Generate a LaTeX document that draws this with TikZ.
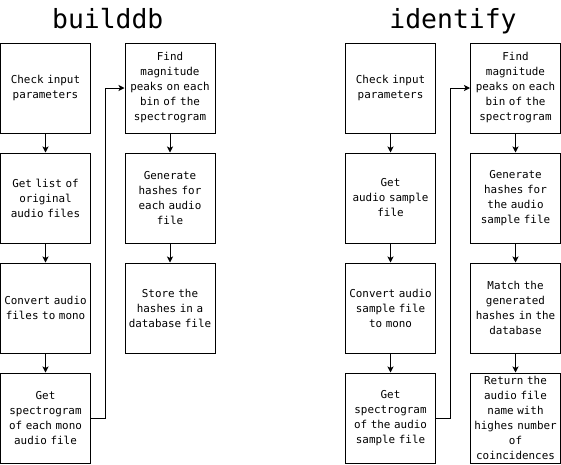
\documentclass[tikz,border=0pt]{standalone}
\usepackage{fontspec}
\setmainfont{DejaVu Sans Mono}
\usetikzlibrary{arrows.meta}
\begin{document}
\begin{tikzpicture}[x=1pt,y=-1pt,
  box/.style={draw, line width=1pt, minimum width=90pt, minimum height=90pt,
    text width=89pt, inner sep=0.5pt, align=center,
    font=\fontsize{10.9}{15}\selectfont},
  arr/.style={line width=1pt, -{Stealth[length=6pt,width=6pt,inset=1.5pt]}},
  ttl/.style={font=\fontsize{26.4}{30}\selectfont, anchor=base, inner sep=0pt}]
\useasboundingbox (0,0) rectangle (561,464);
% titles
\node[ttl] (t1) at (107.75,28) {builddb};
\node[ttl] (t2) at (453,28) {identify};
% builddb left column
\node[box] (a1) at (45.5,88) {Check input\\parameters};
\node[box] (a2) at (45.5,198) {Get list of\\original\\audio files};
\node[box] (a3) at (45.5,308) {Convert audio\\files to mono};
\node[box] (a4) at (45.5,418) {Get\\spectrogram\\of each mono\\audio file};
% builddb right column
\node[box] (a5) at (170,88) {Find\\magnitude\\peaks on each\\bin of the\\spectrogram};
\node[box] (a6) at (170,198) {Generate\\hashes for\\each audio\\file};
\node[box] (a7) at (170,308) {Store the\\hashes in a\\database file};
% identify left column
\node[box] (b1) at (390.5,88) {Check input\\parameters};
\node[box] (b2) at (390.5,198) {Get\\audio sample\\file};
\node[box] (b3) at (390.5,308) {Convert audio\\sample file\\to mono};
\node[box] (b4) at (390.5,418) {Get\\spectrogram\\of the audio\\sample file};
% identify right column
\node[box] (b5) at (515.5,88) {Find\\magnitude\\peaks on each\\bin of the\\spectrogram};
\node[box] (b6) at (515.5,198) {Generate\\hashes for\\the audio\\sample file};
\node[box] (b7) at (515.5,308) {Match the\\generated\\hashes in the\\database};
\node[box] (b8) at (515.5,418) {Return the\\audio file\\name with\\highes number\\of\\coincidences};
% connectors
\draw[arr] (a1) -- (a2);
\draw[arr] (a2) -- (a3);
\draw[arr] (a3) -- (a4);
\draw[arr] (a5) -- (a6);
\draw[arr] (a6) -- (a7);
\coordinate (ca) at (105.5,88);
\draw[arr] (a4.east) -| (ca) -- (a5.west);
\draw[arr] (b1) -- (b2);
\draw[arr] (b2) -- (b3);
\draw[arr] (b3) -- (b4);
\draw[arr] (b5) -- (b6);
\draw[arr] (b6) -- (b7);
\draw[arr] (b7) -- (b8);
\coordinate (cb) at (450.5,88);
\draw[arr] (b4.east) -| (cb) -- (b5.west);
\end{tikzpicture}
\end{document}
